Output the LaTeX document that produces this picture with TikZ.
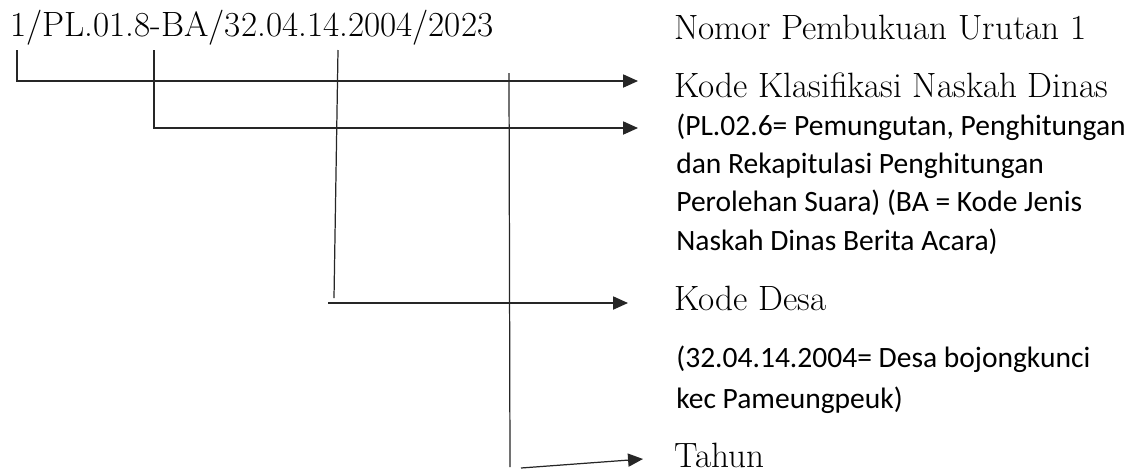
\documentclass[tikz,border=0pt]{standalone}
\usepackage{fontspec}
\newfontfamily\carlito{Carlito}
\usetikzlibrary{arrows.meta}

\begin{document}
\begin{tikzpicture}[
  x=0.2mm, y=-0.2mm,
  kode/.style={anchor=base west, inner sep=0pt,
               font=\fontsize{20}{24}\selectfont},
  % multi-line: base is the baseline of the last line
  ket/.style={anchor=base west, inner sep=0pt, align=left,
              font=\carlito\fontsize{16.8}{21.8}\selectfont},
  lead/.style={line width=0.7pt, black!85},
  arr/.style={lead, -{Triangle[length=8.5pt, width=7.5pt]}},
]
\useasboundingbox (0,0) rectangle (1134,472);
%─── Number and its parts ──────────────────────────────────────────────────
\node[kode] (nomor) at (10,36) {1/PL.01.8-BA/32.04.14.2004/2023};
\coordinate (s1) at (17,50);  \coordinate (s2) at (154,50);
\coordinate (s3) at (338,50); \coordinate (s4) at (509,73);
%─── Explanations ──────────────────────────────────────────────────────────
\node[kode] (urut) at (674,39) {Nomor Pembukuan Urutan 1};
\node[kode] (klas) at (674,97) {Kode Klasifikasi Naskah Dinas};
\node[ket] (klasket) at (676,250)
  {(PL.02.6= Pemungutan, Penghitungan\\dan Rekapitulasi Penghitungan\\
   Perolehan Suara) (BA = Kode Jenis\\Naskah Dinas Berita Acara)};
\node[kode] (desa) at (674,310) {Kode Desa};
\node[ket] (desaket) at (676,408)
  {(32.04.14.2004= Desa bojongkunci\\[1pt]kec Pameungpeuk)};
\node[kode] (tahun) at (674,467) {Tahun};
%─── Leaders ───────────────────────────────────────────────────────────────
\coordinate (t1) at (638,81);  \coordinate (t2) at (638,128);
\coordinate (e3) at (334,298); \coordinate (d3) at (328,303);
\coordinate (t3) at (628,303);
\coordinate (e4) at (510,467); \coordinate (d4) at (521,468);
\coordinate (t4) at (643,459);
\draw[arr] (s1) |- (t1);
\draw[arr] (s2) |- (t2);
\draw[lead] (s3) -- (e3);
\draw[arr] (d3) -- (t3);
\draw[lead] (s4) -- (e4);
\draw[arr] (d4) -- (t4);
\end{tikzpicture}
\end{document}
